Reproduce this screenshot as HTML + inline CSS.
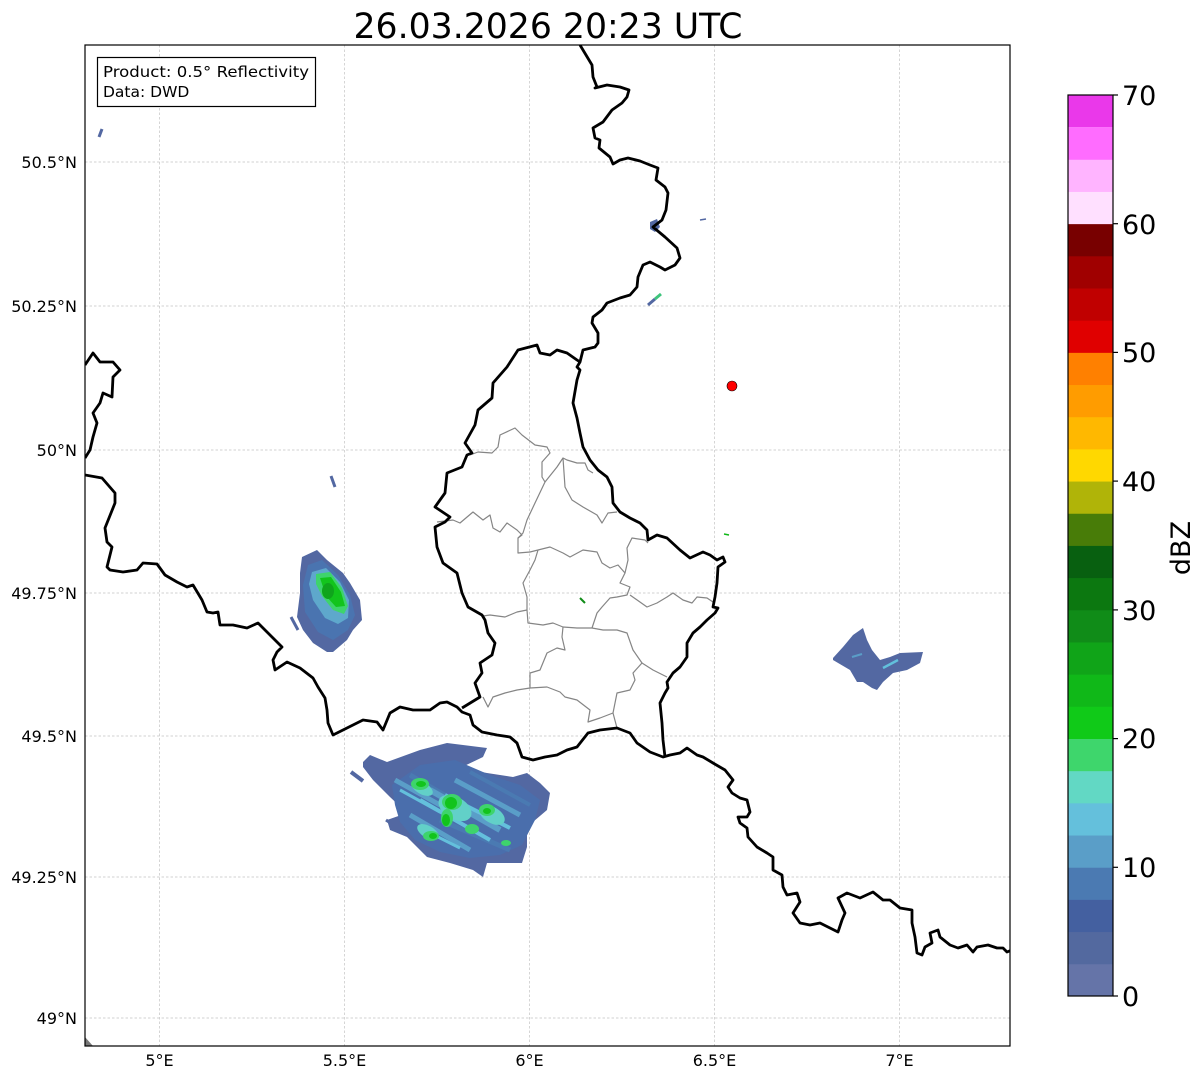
<!DOCTYPE html>
<html><head><meta charset="utf-8"><style>
html,body{margin:0;padding:0;background:#fff;}
svg{display:block;font-family:"DejaVu Sans","Liberation Sans",sans-serif;}
</style></head><body>
<svg width="1202" height="1081" viewBox="0 0 1202 1081" xmlns="http://www.w3.org/2000/svg">
<defs><clipPath id="ax"><rect x="85" y="45" width="925" height="1001"/></clipPath></defs>
<rect width="1202" height="1081" fill="#fff"/>
<text x="548" y="38" font-size="35" text-anchor="middle" textLength="389" lengthAdjust="spacingAndGlyphs">26.03.2026 20:23 UTC</text>
<g clip-path="url(#ax)">
<g stroke="#c4c4c4" stroke-width="0.7" stroke-dasharray="2.5,2" fill="none">
<line x1="159.5" y1="45" x2="159.5" y2="1046"/><line x1="344.5" y1="45" x2="344.5" y2="1046"/><line x1="529.5" y1="45" x2="529.5" y2="1046"/><line x1="714.5" y1="45" x2="714.5" y2="1046"/><line x1="899.5" y1="45" x2="899.5" y2="1046"/>
<line x1="85" y1="162" x2="1010" y2="162"/><line x1="85" y1="306" x2="1010" y2="306"/><line x1="85" y1="450" x2="1010" y2="450"/><line x1="85" y1="593" x2="1010" y2="593"/><line x1="85" y1="736" x2="1010" y2="736"/><line x1="85" y1="877" x2="1010" y2="877"/><line x1="85" y1="1018" x2="1010" y2="1018"/>
</g>
<!-- radar echoes -->
<g>
<!-- blob 1 -->
<polygon fill="#5368a2" points="302,557 317,550 327,560 343,573 350,583 360,600 362,620 353,630 347,640 333,652 327,652 313,643 303,630 297,617 300,593 300,573"/>
<line x1="291" y1="617" x2="298" y2="630" stroke="#5368a2" stroke-width="3"/>
<polygon fill="#4a74b0" points="308,565 322,560 338,575 350,595 355,615 348,630 333,640 318,632 305,612 303,585"/>
<polygon fill="#5ea8cc" points="312,572 326,568 340,582 349,600 348,618 338,624 325,618 313,600 309,584"/>
<polygon fill="#3ed46c" points="316,574 330,572 342,588 348,606 344,614 333,610 322,596 316,584"/>
<polygon fill="#12c41c" points="320,578 331,577 341,592 345,606 336,607 326,596"/>
<ellipse cx="328" cy="591" rx="6" ry="8" fill="#0fa41c"/>
<!-- blob 2 -->
<polygon fill="#5368a2" points="363,762 370,755 387,762 420,750 447,743 487,748 483,757 460,768 487,773 513,777 527,773 540,783 550,793 547,810 527,827 527,847 522,863 487,863 483,877 473,870 450,863 427,857 407,837 390,830 387,820 407,813 390,797 373,780 363,767"/>
<line x1="351" y1="772" x2="363" y2="781" stroke="#5368a2" stroke-width="4"/>
<line x1="386" y1="820" x2="404" y2="832" stroke="#5368a2" stroke-width="3"/>
<polygon fill="#4a6eac" points="392,785 420,765 455,760 490,775 520,785 540,800 535,820 522,845 500,855 470,858 440,852 415,840 400,822 395,805"/>
<g stroke-linecap="butt" fill="none">
<line x1="395" y1="780" x2="440" y2="805" stroke="#5a9ec8" stroke-width="5"/>
<line x1="410" y1="775" x2="470" y2="810" stroke="#4a7ab2" stroke-width="5"/>
<line x1="430" y1="790" x2="500" y2="830" stroke="#5a9ec8" stroke-width="6"/>
<line x1="455" y1="780" x2="520" y2="815" stroke="#5a9ec8" stroke-width="5"/>
<line x1="410" y1="815" x2="470" y2="850" stroke="#5a9ec8" stroke-width="5"/>
<line x1="440" y1="820" x2="510" y2="850" stroke="#4a7ab2" stroke-width="5"/>
<line x1="470" y1="772" x2="530" y2="805" stroke="#4a7ab2" stroke-width="4"/>
<line x1="420" y1="800" x2="490" y2="840" stroke="#64c0dc" stroke-width="4"/>
<line x1="445" y1="795" x2="510" y2="828" stroke="#64c0dc" stroke-width="4"/>
<line x1="400" y1="790" x2="440" y2="812" stroke="#64c0dc" stroke-width="3"/>
<line x1="420" y1="828" x2="460" y2="848" stroke="#64c0dc" stroke-width="3"/>
</g>
<g fill="#62d0c8">
<ellipse cx="455" cy="808" rx="18" ry="11" transform="rotate(30 455 808)"/>
<ellipse cx="492" cy="815" rx="14" ry="8" transform="rotate(30 492 815)"/>
<ellipse cx="428" cy="832" rx="12" ry="6" transform="rotate(30 428 832)"/>
<ellipse cx="422" cy="788" rx="12" ry="6" transform="rotate(30 422 788)"/>
</g>
<g fill="#3ed46c">
<ellipse cx="420" cy="784" rx="9" ry="6"/><ellipse cx="452" cy="802" rx="10" ry="8"/><ellipse cx="447" cy="818" rx="6" ry="9"/><ellipse cx="487" cy="810" rx="8" ry="6"/><ellipse cx="472" cy="829" rx="7" ry="5"/><ellipse cx="431" cy="836" rx="8" ry="5"/><ellipse cx="506" cy="843" rx="5" ry="3"/>
</g>
<g fill="#12c41c">
<ellipse cx="421" cy="784" rx="5" ry="3"/><ellipse cx="451" cy="803" rx="6" ry="6"/><ellipse cx="446" cy="820" rx="4" ry="6"/><ellipse cx="487" cy="811" rx="4" ry="3"/><ellipse cx="433" cy="836" rx="4" ry="3"/>
</g>
<!-- blob 3 -->
<polygon fill="#5368a2" points="833,658 843,647 853,635 863,628 867,640 872,650 880,660 890,657 900,653 923,652 920,663 907,670 893,673 883,682 877,690 872,688 863,682 857,682 850,670 833,660"/>
<line x1="883" y1="668" x2="898" y2="660" stroke="#62c0dc" stroke-width="2.5"/>
<line x1="852" y1="657" x2="862" y2="654" stroke="#5a9ec8" stroke-width="2"/>
<!-- small echoes -->
<line x1="99" y1="137" x2="102" y2="129" stroke="#5368a2" stroke-width="3"/>
<polygon fill="#5368a2" points="650,222 657,219 660,227 655,232 650,229"/>
<line x1="700" y1="220" x2="706" y2="219" stroke="#5368a2" stroke-width="1.5"/>
<line x1="648" y1="305" x2="655" y2="299" stroke="#5368a2" stroke-width="3"/>
<line x1="655" y1="299" x2="661" y2="294" stroke="#3ec47c" stroke-width="3"/>
<line x1="331" y1="476" x2="335" y2="487" stroke="#5368a2" stroke-width="3"/>
<line x1="724" y1="534" x2="729" y2="535" stroke="#10b818" stroke-width="1.5"/>
<line x1="580" y1="598" x2="585" y2="603" stroke="#108c18" stroke-width="2"/>
<polygon fill="#777" points="85,1037 93,1046 85,1046"/>
</g>
<!-- canton borders -->
<g fill="none" stroke="#858585" stroke-width="1.2" stroke-linejoin="round">
<polyline points="470,455 478,452 492,453 498,447 500,435 515,428 522,435 535,445 547,447 550,453 542,462 542,477 545,482 535,503 527,520 523,533 518,538 518,553 530,552 538,550"/>
<polyline points="545,482 557,467 563,458 567,460 577,463 585,463 588,470 593,473"/>
<polyline points="563,458 565,487 572,500 583,507 597,515 602,523 608,513 617,512"/>
<polyline points="437,522 453,520 460,523 473,512 483,520 490,515 493,528 500,532 507,523 517,530 522,535 518,538"/>
<polyline points="538,550 550,547 563,553 570,557 583,550 597,552 602,563 610,568 618,565 625,573 620,583 630,587 627,595 617,597 610,598 602,607 597,613 592,628"/>
<polyline points="625,573 628,560 627,548 632,538 645,540 648,543"/>
<polyline points="630,595 647,607 657,603 667,597 673,593 683,600 692,603 697,597 707,598 713,602"/>
<polyline points="538,550 535,560 530,570 523,583 527,597 527,610 517,612 505,617 490,615 483,616"/>
<polyline points="527,610 528,623 543,625 553,623 563,627 577,628 592,628 603,630 617,630 627,633 633,650 642,663 653,670 667,677"/>
<polyline points="563,627 562,637 565,650 557,648 547,653 540,670 530,673 530,688"/>
<polyline points="642,663 633,673 635,680 630,690 617,693 615,703 613,713 617,728"/>
<polyline points="530,688 547,687 560,692 565,697 577,700 590,710 588,722 600,718 613,713"/>
<polyline points="530,688 517,690 505,693 493,697 488,707 483,697"/>
</g>
<!-- national borders -->
<g fill="none" stroke="#000" stroke-width="2.8" stroke-linejoin="round">
<polyline points="580,45 586,55 592,65 593,77 597,87 595,88 607,85 620,87 629,90 627,97 622,103 612,110 603,122 593,128 595,138 600,140 599,148 610,157 613,164 620,160 628,158 640,161 650,165 658,168 656,180 665,187 668,193 666,210 662,220 653,227 665,237 677,248 680,258 675,265 665,270 660,267 650,262 643,265 638,277 637,287 630,295 620,298 607,303 602,310 593,317 592,323 598,333 598,343 595,347 583,350 580,362 577,367 580,370 577,380 573,403 577,418 580,433 583,447 590,460 598,470 607,477 612,487 613,503 620,512 630,518 640,523 647,530 648,540 657,535 667,538 680,550 690,558 703,552 710,555 717,560 723,557 725,562 718,567 717,583 715,597 713,607 718,608 715,613 707,620 700,627 693,633 687,643 687,657 680,667 673,673 667,682 668,688 665,693 660,703 662,723 663,740 665,757"/>
<polyline points="580,362 577,360 567,353 557,350 550,355 540,353 537,345 518,350 507,367 493,383 492,398 478,410 475,425 465,443 472,453 467,455 462,467 447,473 445,493 435,507 450,517 445,522 435,527 437,547 443,563 457,573 462,593 468,607 482,615 485,620 488,633 495,643 492,655 480,663 482,673 475,683 480,697 462,708"/>
<polyline points="85,475 102,478 115,493 115,503 105,528 107,542 112,547 107,567 110,570 123,572 137,570 143,563 157,564 165,575 177,582 187,587 193,585 202,600 207,612 213,613 218,612 220,625 233,625 247,628 258,623 273,638 282,647 277,652 273,660 275,670 287,662 300,668 313,678 318,687 325,698 327,710 328,723 333,735 343,730 363,720 377,722 383,730 390,713 400,707 413,710 430,710 440,703 447,702 457,707 462,712 470,715 473,725 482,732 497,735 510,737 517,743 522,757 533,760 545,757 557,755 567,750 577,747 588,733 600,730 617,728 630,733 637,743 650,752 663,757 670,755 680,753 687,748 697,755 703,757 713,763 725,770 733,780 728,787 732,793 740,798 747,800 750,812 747,817 738,817 740,823 747,828 748,837 757,847 767,853 773,857 773,870 782,875 783,887 787,895 797,893 800,902 793,913 800,923 810,925 820,923 830,928 838,932 842,920 845,913 838,898 847,893 860,898 873,892 883,900 890,900 900,908 912,910 912,923 915,937 917,953 922,955 925,947 932,943 930,933 938,930 940,937 950,945 958,948 967,945 973,952 977,947 988,945 997,948 1003,948 1007,952 1012,950"/>
<polyline points="85,365 93,353 100,362 113,362 120,370 113,377 112,397 103,393 100,403 93,413 97,423 93,437 90,450 85,458"/>
</g>
<circle cx="732" cy="386" r="5" fill="#ff0000" stroke="#000" stroke-width="0.6"/>
</g>
<rect x="85" y="45" width="925" height="1001" fill="none" stroke="#000" stroke-width="1.2"/>
<!-- info box -->
<rect x="97.5" y="57.5" width="218" height="49" fill="#fff" stroke="#000" stroke-width="1.2"/>
<g font-size="15.5" fill="#000">
<text x="103" y="77" textLength="206" lengthAdjust="spacingAndGlyphs">Product: 0.5° Reflectivity</text>
<text x="103" y="97">Data: DWD</text>
</g>
<!-- tick labels -->
<g font-size="16" fill="#000" text-anchor="middle">
<text x="159.5" y="1066">5°E</text><text x="344.5" y="1066">5.5°E</text><text x="529.5" y="1066">6°E</text><text x="714.5" y="1066">6.5°E</text><text x="899.5" y="1066">7°E</text>
</g>
<g font-size="16" fill="#000" text-anchor="end">
<text x="77" y="168">50.5°N</text><text x="77" y="312">50.25°N</text><text x="77" y="456">50°N</text><text x="77" y="599">49.75°N</text><text x="77" y="742">49.5°N</text><text x="77" y="883">49.25°N</text><text x="77" y="1024">49°N</text>
</g>
<!-- colorbar -->
<g>
<rect x="1068" y="963.82" width="45" height="32.6" fill="#6574a8"/>
<rect x="1068" y="931.64" width="45" height="32.6" fill="#53699f"/>
<rect x="1068" y="899.46" width="45" height="32.6" fill="#4460a0"/>
<rect x="1068" y="867.28" width="45" height="32.6" fill="#4b7ab2"/>
<rect x="1068" y="835.11" width="45" height="32.6" fill="#5a9ec8"/>
<rect x="1068" y="802.93" width="45" height="32.6" fill="#64c0dc"/>
<rect x="1068" y="770.75" width="45" height="32.6" fill="#62d8c4"/>
<rect x="1068" y="738.57" width="45" height="32.6" fill="#3ed66c"/>
<rect x="1068" y="706.39" width="45" height="32.6" fill="#10ca18"/>
<rect x="1068" y="674.21" width="45" height="32.6" fill="#10b818"/>
<rect x="1068" y="642.03" width="45" height="32.6" fill="#10a418"/>
<rect x="1068" y="609.86" width="45" height="32.6" fill="#108c18"/>
<rect x="1068" y="577.68" width="45" height="32.6" fill="#0c7810"/>
<rect x="1068" y="545.50" width="45" height="32.6" fill="#086010"/>
<rect x="1068" y="513.32" width="45" height="32.6" fill="#487c08"/>
<rect x="1068" y="481.14" width="45" height="32.6" fill="#b0b408"/>
<rect x="1068" y="448.96" width="45" height="32.6" fill="#ffd800"/>
<rect x="1068" y="416.78" width="45" height="32.6" fill="#ffb800"/>
<rect x="1068" y="384.61" width="45" height="32.6" fill="#ff9c00"/>
<rect x="1068" y="352.43" width="45" height="32.6" fill="#ff8000"/>
<rect x="1068" y="320.25" width="45" height="32.6" fill="#e00000"/>
<rect x="1068" y="288.07" width="45" height="32.6" fill="#c00000"/>
<rect x="1068" y="255.89" width="45" height="32.6" fill="#a00000"/>
<rect x="1068" y="223.71" width="45" height="32.6" fill="#780000"/>
<rect x="1068" y="191.53" width="45" height="32.6" fill="#ffe0ff"/>
<rect x="1068" y="159.36" width="45" height="32.6" fill="#ffb4ff"/>
<rect x="1068" y="127.18" width="45" height="32.6" fill="#ff6cff"/>
<rect x="1068" y="95.00" width="45" height="32.18" fill="#ea38ea"/>
<rect x="1068" y="95" width="45" height="901" fill="none" stroke="#000" stroke-width="1.2"/>
<g stroke="#000" stroke-width="1.2">
<line x1="1113" y1="996" x2="1118" y2="996"/><line x1="1113" y1="867.3" x2="1118" y2="867.3"/><line x1="1113" y1="738.6" x2="1118" y2="738.6"/><line x1="1113" y1="609.9" x2="1118" y2="609.9"/><line x1="1113" y1="481.1" x2="1118" y2="481.1"/><line x1="1113" y1="352.4" x2="1118" y2="352.4"/><line x1="1113" y1="223.7" x2="1118" y2="223.7"/><line x1="1113" y1="95" x2="1118" y2="95"/>
</g>
<g font-size="27" fill="#000">
<text x="1122" y="1006">0</text><text x="1122" y="877">10</text><text x="1122" y="748">20</text><text x="1122" y="620">30</text><text x="1122" y="491">40</text><text x="1122" y="362">50</text><text x="1122" y="234">60</text><text x="1122" y="105">70</text>
</g>
<text transform="translate(1190,548) rotate(-90)" font-size="27" text-anchor="middle">dBZ</text>
</g>
</svg>
</body></html>
